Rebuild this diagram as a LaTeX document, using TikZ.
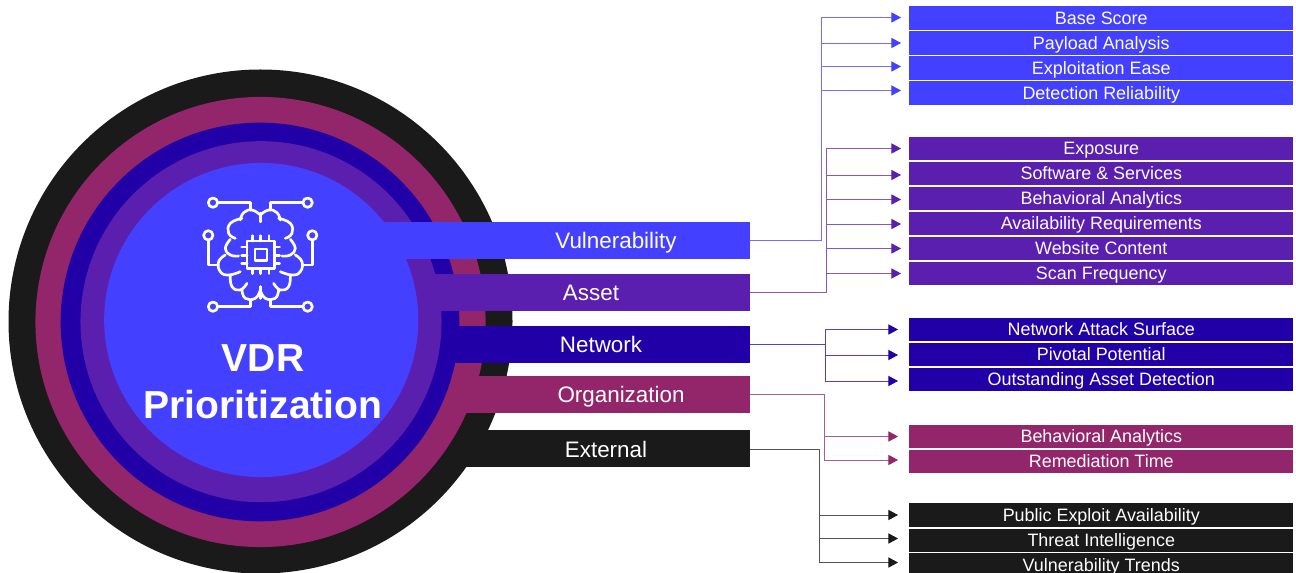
\documentclass[tikz,border=0pt]{standalone}
\usepackage{fontspec}
\setmainfont{Liberation Sans}
\usetikzlibrary{arrows.meta}
\definecolor{cblue}{HTML}{4340FF}
\definecolor{cpurple}{HTML}{5A1FAE}
\definecolor{cdark}{HTML}{2200A8}
\definecolor{cmag}{HTML}{93256B}
\definecolor{cblack}{HTML}{1A1A1A}
\tikzset{
  x=0.75pt,y=-0.75pt,
  barbox/.style={fill=#1,draw=none,inner sep=0pt,minimum width=366.75pt,minimum height=27.75pt},
  barlabel/.style={text=white,inner sep=0pt,text height=16pt,text depth=4pt,font=\fontsize{16.8}{20}\selectfont},
  itembox/.style={fill=#1,draw=none,inner sep=0pt,minimum width=288pt,minimum height=17.4pt,anchor=west,text=white,text height=12.6pt,text depth=3pt,font=\fontsize{13.45}{16}\selectfont},
  conn/.style={draw=#1!75,line width=0.7pt},
  connarrow/.style={draw=#1!75,line width=0.7pt,-{Triangle[length=7.2pt,width=7.6pt,color=#1]}},
  icon/.style={draw=white,line width=2pt,line cap=round,line join=round},
  ring/.style={fill=#1,draw=none},
}
\begin{document}
\begin{tikzpicture}
\useasboundingbox (0,0) rectangle (1296,573);
\clip (0,0) rectangle (1296,573);
\fill[white] (0,0) rectangle (1296,573);
% rings and bars, stacked outermost first
\path[ring=cblack] (260.5,321.5) circle[radius=189pt];
\node[barbox=cblack] (external) at (505.5,449) {};
\path[ring=cmag] (260.5,322) circle[radius=168.8pt];
\node[barbox=cmag] (organization) at (505.5,394.5) {};
\path[ring=cdark] (260,322) circle[radius=149.5pt];
\node[barbox=cdark] (network) at (505.5,344.5) {};
\path[ring=cpurple] (261,321.7) circle[radius=135.4pt];
\node[barbox=cpurple] (asset) at (505.5,292.5) {};
\path[ring=cblue] (261.2,320) circle[radius=117.8pt];
\node[barbox=cblue] (vulnerability) at (505.5,240.5) {};
\node[barlabel] (lvuln) at (616,241) {Vulnerability};
\node[barlabel] (lasset) at (591,293) {Asset};
\node[barlabel] (lnet) at (601,345) {Network};
\node[barlabel] (lorg) at (621,395) {Organization};
\node[barlabel] (lext) at (606,450) {External};
\node[text=white,align=center,inner sep=0pt,font=\fontsize{29.3}{35.25}\selectfont\bfseries] (title) at (263,381.5) {VDR\\Prioritization};
% icon
\begin{scope}[shift={(260.3,255)},x=0.25pt,y=-0.25pt]
\foreach \s in {1,-1}{
\begin{scope}[xscale=\s]
\draw[icon] (-125,-157) -- (-30,-157) -- (-30,-135);
\draw[icon] (-142,-157) circle[radius=3.5pt];
\draw[icon] (-156,-42) -- (-156,30) -- (-125,30);
\draw[icon] (-156,-59) circle[radius=3.5pt];
\draw[icon] (-30,135) -- (-30,155) -- (-125,155);
\draw[icon] (-142,155) circle[radius=3.5pt];
% brain lobes
\draw[icon] plot[smooth,tension=0.8] coordinates {(0,-120) (-25,-135) (-50,-127) (-60,-105)};
\draw[icon] plot[smooth,tension=0.8] coordinates {(-55,-110) (-90,-95) (-95,-65) (-75,-50)};
\draw[icon] plot[smooth,tension=0.8] coordinates {(-90,-47) (-105,-20) (-90,0) (-65,3)};
\draw[icon] plot[smooth,tension=0.8] coordinates {(-105,0) (-125,20) (-120,50) (-95,60) (-60,50)};
\draw[icon] plot[smooth,tension=0.8] coordinates {(-90,62) (-85,95) (-60,105) (-40,85)};
\draw[icon] plot[smooth,tension=0.8] coordinates {(-55,105) (-45,130) (-15,130) (0,105)};
\draw[icon] (0,-125) -- (0,-100);
\draw[icon] (0,95) -- (0,130);
\end{scope}}
% chip
\draw[icon] (-40,-42) rectangle (42,40);
\draw[icon] (-16,-18) rectangle (20,16);
\foreach \t in {-24,1,26}{
\draw[icon] (\t,-42) -- (\t,-58);
\draw[icon] (\t,40) -- (\t,56);
\draw[icon] (-40,\t) -- (-56,\t);
\draw[icon] (42,\t) -- (58,\t);
}
\end{scope}
% item boxes
\foreach \n/\y/\c/\t in {
 b1/18/cblue/Base Score,b2/43/cblue/Payload Analysis,b3/68/cblue/Exploitation Ease,b4/93/cblue/Detection Reliability,
 p1/148.5/cpurple/Exposure,p2/173.5/cpurple/Software \& Services,p3/198.5/cpurple/Behavioral Analytics,p4/223.5/cpurple/Availability Requirements,p5/248.5/cpurple/Website Content,p6/273.5/cpurple/Scan Frequency,
 n1/329.5/cdark/Network Attack Surface,n2/354.5/cdark/Pivotal Potential,n3/379.5/cdark/Outstanding Asset Detection,
 m1/436.5/cmag/Behavioral Analytics,m2/461.5/cmag/Remediation Time,
 k1/515/cblack/Public Exploit Availability,k2/540.5/cblack/Threat Intelligence,k3/565/cblack/Vulnerability Trends}{
 \node[itembox=\c] (\n) at (909,\y) {\t};
}
% connectors: free ends are the arrow tips just short of each box
\foreach \n/\y in {b1/17.5,b2/43,b3/66.5,b4/90.5,p1/148.5,p2/175,p3/199.5,p4/224,p5/248.5,p6/273.5}{
 \coordinate (e\n) at (901,\y);
}
\foreach \n/\y in {n1/329.5,n2/355,n3/381,m1/436.5,m2/460,k1/515,k2/538.5,k3/562.5}{
 \coordinate (e\n) at (898,\y);
}
\coordinate (tb) at (821,17.5);
\coordinate (tp) at (826,148.5);
\coordinate (tn) at (825,329.5);
\coordinate (tm) at (824,436.5);
\coordinate (tk) at (819,515);
\draw[conn=cblue] (vulnerability.east) -| (tb);
\foreach \n in {b1,b2,b3,b4}{\draw[connarrow=cblue] (tb |- e\n) -- (e\n);}
\draw[conn=cpurple] (asset.east) -| (tp);
\foreach \n in {p1,p2,p3,p4,p5,p6}{\draw[connarrow=cpurple] (tp |- e\n) -- (e\n);}
\draw[conn=cdark] (network.east) -| (tn);
\draw[conn=cdark] (network.east -| tn) -- (tn |- en3);
\foreach \n in {n1,n2,n3}{\draw[connarrow=cdark] (tn |- e\n) -- (e\n);}
\draw[conn=cmag] (organization.east) -| (tm |- em2);
\foreach \n in {m1,m2}{\draw[connarrow=cmag] (tm |- e\n) -- (e\n);}
\draw[conn=cblack] (external.east) -| (tk |- ek3);
\foreach \n in {k1,k2,k3}{\draw[connarrow=cblack] (tk |- e\n) -- (e\n);}
\end{tikzpicture}
\end{document}
